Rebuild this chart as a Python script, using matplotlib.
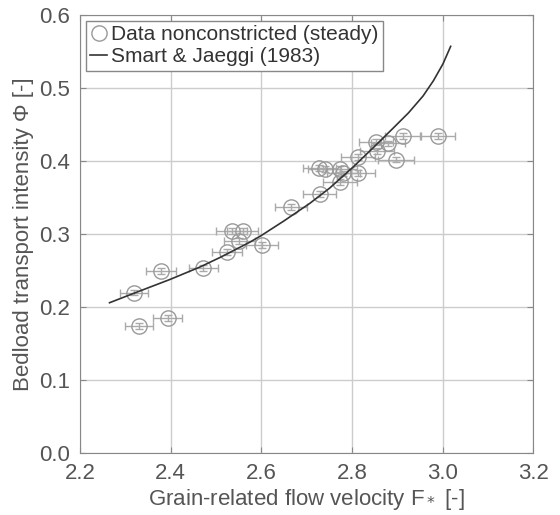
import matplotlib
matplotlib.use("Agg")
import matplotlib.pyplot as plt
import numpy as np

# measured points (nonconstricted, steady)
F = [2.319, 2.378, 2.331, 2.393, 2.472, 2.524, 2.535, 2.559, 2.551, 2.601,
     2.665, 2.728, 2.729, 2.740, 2.774, 2.781, 2.774, 2.813, 2.814, 2.853,
     2.855, 2.880, 2.913, 2.897, 2.989]
phi = [0.220, 0.250, 0.174, 0.185, 0.254, 0.276, 0.304, 0.304, 0.290, 0.285,
       0.337, 0.390, 0.355, 0.389, 0.389, 0.383, 0.371, 0.384, 0.405, 0.426,
       0.414, 0.424, 0.434, 0.402, 0.434]
F_err = [0.031, 0.033, 0.031, 0.032, 0.032, 0.033, 0.034, 0.034, 0.034, 0.035,
         0.035, 0.036, 0.036, 0.036, 0.037, 0.037, 0.037, 0.037, 0.037, 0.038,
         0.038, 0.038, 0.039, 0.039, 0.039]
phi_err = [0.004] * len(F)

# Smart & Jaeggi (1983) curve
F_sj = [2.265, 2.319, 2.399, 2.465, 2.509, 2.575, 2.600, 2.650, 2.707, 2.751,
        2.803, 2.850, 2.891, 2.925, 2.957, 2.980, 3.001, 3.018]
phi_sj = [0.206, 0.219, 0.238, 0.255, 0.268, 0.289, 0.298, 0.318, 0.342, 0.363,
          0.392, 0.420, 0.445, 0.466, 0.489, 0.510, 0.533, 0.557]

plt.rcParams['font.family'] = ['Liberation Sans', 'DejaVu Sans']
txt = '#555555'

fig = plt.figure(figsize=(5.6, 5.15), dpi=100)
ax = fig.add_axes([0.143, 0.12, 0.809, 0.851])

ax.errorbar(F, phi, xerr=F_err, yerr=phi_err, fmt='none', ecolor='#aaaaaa',
            elinewidth=1.0, capsize=3, capthick=1.0, zorder=2)
ax.plot(F, phi, 'o', ms=11, mfc='none', mec='#999999', mew=1.0, zorder=3,
        label='Data nonconstricted (steady)')
ax.plot(F_sj, phi_sj, '-', color='#333333', lw=1.2, zorder=4,
        label='Smart & Jaeggi (1983)')

ax.set_xlim(2.2, 3.2)
ax.set_ylim(0, 0.6)
ax.set_xticks(np.arange(2.2, 3.21, 0.2))
ax.set_yticks(np.arange(0, 0.61, 0.1))
ax.set_xticklabels(['2.2', '2.4', '2.6', '2.8', '3.0', '3.2'])
ax.set_yticklabels(['0.0', '0.1', '0.2', '0.3', '0.4', '0.5', '0.6'])
ax.grid(True, color='#cccccc', lw=1.0)
ax.set_axisbelow(True)
ax.tick_params(direction='in', top=True, right=True, length=4, pad=7,
               colors='#888888', labelcolor=txt, labelsize=16)
for s in ax.spines.values():
    s.set_color('#888888')

ax.set_xlabel('Grain-related flow velocity F$_*$ [-]', fontsize=16, color=txt,
              labelpad=2)
ax.set_ylabel('Bedload transport intensity \u03a6 [-]', fontsize=16, color=txt,
              labelpad=4)

leg = ax.legend(loc='upper left', fontsize=15, handlelength=0.8,
                handletextpad=0.2, borderpad=0.2, labelspacing=0.15,
                fancybox=False, framealpha=1, borderaxespad=0.3)
leg.get_frame().set_edgecolor('#888888')
for t in leg.get_texts():
    t.set_color('#333333')

fig.savefig('out.png', dpi=100)
